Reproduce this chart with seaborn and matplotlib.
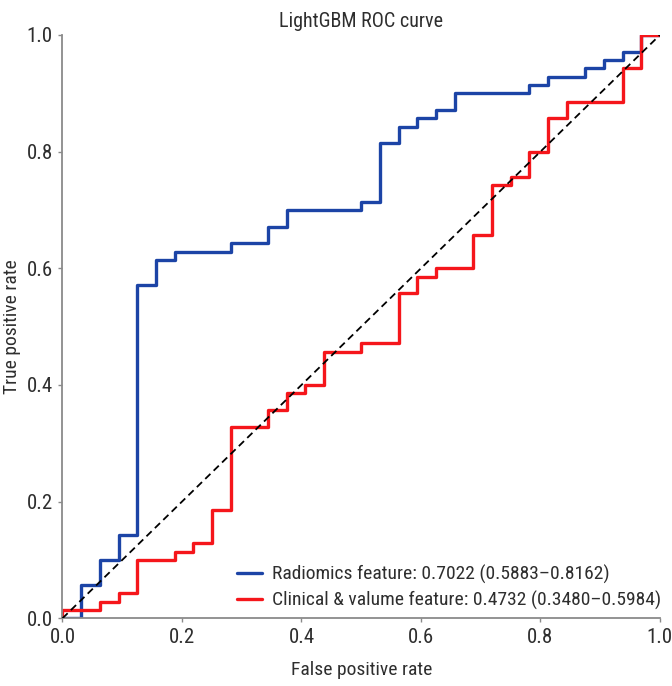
import matplotlib
matplotlib.use("Agg")
import matplotlib.pyplot as plt
import seaborn as sns
import pandas as pd

# ---- data ----
radiomics_fpr = [0, 0.03125, 0.0625, 0.09375, 0.125, 0.15625, 0.1875, 0.28125, 0.34375,
                 0.375, 0.5, 0.53125, 0.5625, 0.59375, 0.625, 0.65625, 0.78125, 0.8125,
                 0.875, 0.90625, 0.9375, 0.96875, 1.0]
radiomics_tpr = [0, 0.0571, 0.1, 0.1429, 0.5714, 0.6143, 0.6286, 0.6429, 0.6714,
                 0.7, 0.7143, 0.8143, 0.8429, 0.8571, 0.8714, 0.9, 0.9143, 0.9286,
                 0.9429, 0.9571, 0.9714, 1.0, 1.0]

clinical_fpr = [0, 0, 0.0625, 0.09375, 0.125, 0.1875, 0.21875, 0.25, 0.28125, 0.34375,
                0.375, 0.40625, 0.4375, 0.5, 0.5625, 0.59375, 0.625, 0.6875, 0.71875,
                0.75, 0.78125, 0.8125, 0.84375, 0.9375, 0.96875, 1.0]
clinical_tpr = [0, 0.0143, 0.0286, 0.0429, 0.1, 0.1143, 0.1286, 0.1857, 0.3286, 0.3571,
                0.3857, 0.4, 0.4571, 0.4714, 0.5571, 0.5857, 0.6, 0.6571, 0.7429,
                0.7571, 0.8, 0.8571, 0.8857, 0.9429, 1.0, 1.0]

labels = ["Radiomics feature: 0.7022 (0.5883\u20130.8162)",
          "Clinical & valume feature: 0.4732 (0.3480\u20130.5984)"]
colors = ["#1c44a6", "#f5161b"]
ticks = [0.0, 0.2, 0.4, 0.6, 0.8, 1.0]

sns.set_theme(style="white")
plt.rcParams["font.family"] = ["Roboto Condensed", "DejaVu Sans Condensed",
                               "Liberation Sans Narrow", "DejaVu Sans"]
plt.rcParams["font.stretch"] = "condensed"
txt = "#2e2e2e"
gray = "#8a8a8a"

fig = plt.figure(figsize=(6.72, 6.86), dpi=100)
ax = fig.add_axes([0.093, 0.0987, 0.889, 0.8503])

df_r = pd.DataFrame({"fpr": radiomics_fpr, "tpr": radiomics_tpr})
df_c = pd.DataFrame({"fpr": clinical_fpr, "tpr": clinical_tpr})

sns.lineplot(data=df_r, x="fpr", y="tpr", sort=False, estimator=None, ax=ax,
             color=colors[0], lw=2.4, drawstyle="steps-post", label=labels[0])
sns.lineplot(data=df_c, x="fpr", y="tpr", sort=False, estimator=None, ax=ax,
             color=colors[1], lw=2.4, drawstyle="steps-post", label=labels[1])
ax.plot([0, 1], [0, 1], color="black", lw=1.3, linestyle=(0, (4, 2.5)), zorder=5)

ax.set_xlim(0, 1)
ax.set_ylim(0, 1)
ax.set_xticks(ticks)
ax.set_yticks(ticks)
ax.set_xticklabels([f"{t:.1f}" for t in ticks])
ax.set_yticklabels([f"{t:.1f}" for t in ticks])
ax.tick_params(axis="both", which="both", direction="out", length=3, width=1,
               color=gray, labelcolor=txt, labelsize=15, pad=4,
               bottom=True, left=True)
for s in ["top", "right"]:
    ax.spines[s].set_visible(False)
for s in ["left", "bottom"]:
    ax.spines[s].set_color(gray)
    ax.spines[s].set_linewidth(1.3)

ax.set_xlabel("False positive rate", fontsize=14, color=txt, labelpad=10)
ax.set_ylabel("True positive rate", fontsize=14, color=txt, labelpad=4)
ax.set_title("LightGBM ROC curve", fontsize=14.5, color=txt, pad=6)

leg = ax.legend(loc="lower right", bbox_to_anchor=(1.025, -0.009), frameon=False,
                fontsize=14, handlelength=1.3, handletextpad=0.5,
                labelspacing=0.35, borderaxespad=0.3)
for t in leg.get_texts():
    t.set_color(txt)

fig.savefig("out.png", dpi=100)
